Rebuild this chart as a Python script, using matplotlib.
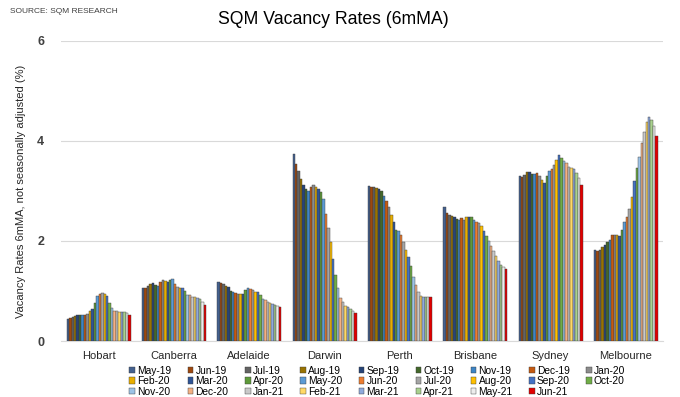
import numpy as np
import matplotlib
matplotlib.use("Agg")
import matplotlib.pyplot as plt

plt.rcParams['font.family'] = ['Liberation Sans', 'DejaVu Sans']

cities = ['Hobart', 'Canberra', 'Adelaide', 'Darwin', 'Perth', 'Brisbane', 'Sydney', 'Melbourne']
months = ['May-19', 'Jun-19', 'Jul-19', 'Aug-19', 'Sep-19', 'Oct-19', 'Nov-19', 'Dec-19', 'Jan-20',
          'Feb-20', 'Mar-20', 'Apr-20', 'May-20', 'Jun-20', 'Jul-20', 'Aug-20', 'Sep-20', 'Oct-20',
          'Nov-20', 'Dec-20', 'Jan-21', 'Feb-21', 'Mar-21', 'Apr-21', 'May-21', 'Jun-21']

# vacancy rates per city, one value per month
hobart = [0.45, 0.47, 0.48, 0.50, 0.53, 0.52, 0.52, 0.53, 0.55, 0.61, 0.64, 0.77, 0.90,
          0.95, 0.97, 0.95, 0.90, 0.77, 0.67, 0.61, 0.60, 0.59, 0.58, 0.58, 0.56, 0.52]
canberra = [1.05, 1.05, 1.09, 1.13, 1.15, 1.11, 1.10, 1.17, 1.22, 1.19, 1.18, 1.21, 1.24,
            1.13, 1.07, 1.05, 1.05, 1.00, 0.92, 0.92, 0.89, 0.88, 0.87, 0.84, 0.78, 0.72]
adelaide = [1.17, 1.15, 1.14, 1.10, 1.07, 1.00, 0.99, 0.97, 0.95, 0.95, 0.95, 1.02, 1.05,
            1.04, 1.02, 0.99, 0.98, 0.93, 0.85, 0.82, 0.79, 0.77, 0.75, 0.73, 0.71, 0.68]
darwin = [3.73, 3.53, 3.39, 3.24, 3.11, 3.03, 3.00, 3.07, 3.11, 3.07, 3.04, 2.97, 2.83,
          2.54, 2.25, 1.97, 1.64, 1.32, 1.05, 0.87, 0.79, 0.71, 0.69, 0.65, 0.61, 0.57]
perth = [3.10, 3.08, 3.07, 3.05, 3.03, 3.00, 2.89, 2.79, 2.67, 2.52, 2.37, 2.22, 2.20,
         2.11, 1.97, 1.82, 1.67, 1.50, 1.27, 1.12, 0.99, 0.91, 0.89, 0.88, 0.88, 0.88]
brisbane = [2.67, 2.55, 2.52, 2.50, 2.47, 2.44, 2.42, 2.46, 2.42, 2.48, 2.48, 2.47, 2.41,
            2.37, 2.35, 2.29, 2.19, 2.09, 1.99, 1.89, 1.79, 1.69, 1.60, 1.52, 1.47, 1.43]
sydney = [3.29, 3.27, 3.32, 3.37, 3.38, 3.33, 3.33, 3.35, 3.29, 3.21, 3.15, 3.29, 3.39,
          3.43, 3.52, 3.61, 3.71, 3.65, 3.59, 3.55, 3.47, 3.45, 3.43, 3.35, 3.25, 3.11]
melbourne = [1.82, 1.80, 1.82, 1.87, 1.92, 1.97, 2.02, 2.11, 2.12, 2.11, 2.09, 2.22, 2.37,
             2.47, 2.63, 2.87, 3.20, 3.45, 3.67, 3.95, 4.18, 4.37, 4.47, 4.41, 4.29, 4.09]

colors = ['#44618F', '#9E480E', '#636363', '#997300', '#264478', '#43682B', '#3D85C6', '#C55A11',
          '#8C8C8C', '#E8AE00', '#2F5597', '#5E9A3A', '#5B9BD5', '#ED7D31', '#A5A5A5', '#FFC000',
          '#4472C4', '#70AD47', '#9DC3E6', '#F4B183', '#C9C9C9', '#FFD966', '#8FAADC', '#A9D18E',
          '#EDEDED', '#E00000']

data = np.array([hobart, canberra, adelaide, darwin, perth, brisbane, sydney, melbourne])

fig = plt.figure(figsize=(6.8, 3.97), dpi=100)
ax = fig.add_axes([0.0897, 0.141, 0.886, 0.756])

n = len(months)
group_w = 0.85
w = group_w / n
x = np.arange(len(cities))
handles = []
for i, m in enumerate(months):
    b = ax.bar(x - group_w / 2 + (i + 0.5) * w, data[:, i], width=w, color=colors[i],
               edgecolor='#3a3a3a', linewidth=0.3, label=m, zorder=3)
    handles.append(b)

ax.set_xlim(-0.5, len(cities) - 0.5)
ax.set_ylim(0, 6)
ax.set_yticks([0, 2, 4, 6])
ax.set_yticklabels(['0', '2', '4', '6'], fontsize=9, fontweight='bold', color='#404040')
ax.set_xticks(x)
ax.set_xticklabels(cities, fontsize=8, color='#262626')
ax.tick_params(axis='y', length=0, pad=12)
ax.tick_params(axis='x', length=0, pad=7)
ax.grid(axis='y', color='#D9D9D9', linewidth=0.8, zorder=0)
for s in ['top', 'right', 'left']:
    ax.spines[s].set_visible(False)
ax.spines['bottom'].set_color('#D9D9D9')

ax.set_ylabel('Vacancy Rates 6mMA, not seasonally adjusted (%)', fontsize=8, color='#262626', labelpad=8)

fig.text(0.49, 0.952, 'SQM Vacancy Rates (6mMA)', ha='center', va='center', fontsize=12.7, color='#000000')
fig.text(0.014, 0.972, 'SOURCE: SQM RESEARCH', ha='left', va='center', fontsize=6, color='#404040')

# legend reads row by row: reorder for column-major fill
ncol = 9
order = [j + ncol * r for j in range(ncol) for r in range(3) if j + ncol * r < n]
fig.legend([handles[k] for k in order], [months[k] for k in order],
           loc='center', bbox_to_anchor=(0.555, 0.04), ncol=ncol, fontsize=7.4, frameon=False,
           handlelength=0.55, handleheight=0.55, handletextpad=0.2, columnspacing=1.6,
           labelspacing=0.05, borderaxespad=0)

fig.savefig('out.png', dpi=100)
